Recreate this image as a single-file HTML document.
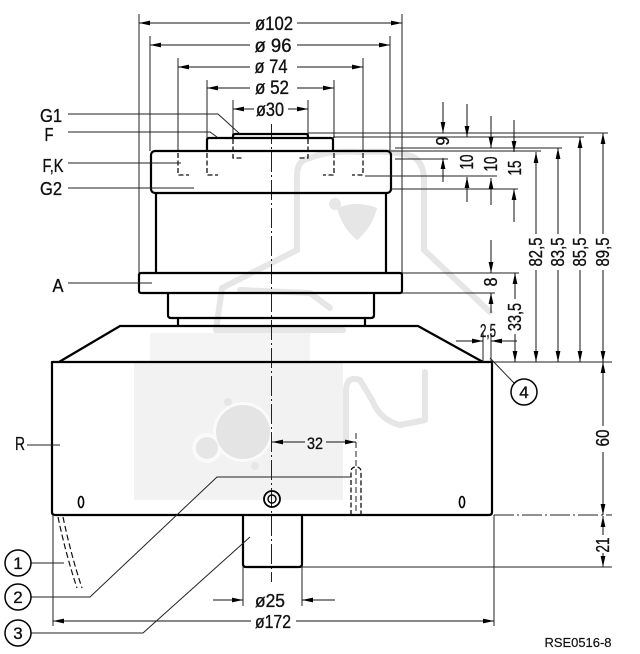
<!DOCTYPE html>
<html><head><meta charset="utf-8"><style>
html,body{margin:0;padding:0;background:#fff;}
svg{display:block;}
text{font-family:"Liberation Sans",sans-serif;fill:#111;stroke:#111;stroke-width:0.35;}
.k{stroke:#000;stroke-width:2.2;fill:none;stroke-linejoin:round;}
.t{stroke:#222;stroke-width:1;fill:none;}
.d{stroke:#111;stroke-width:1.3;fill:none;stroke-dasharray:5 2.5;}
.a{stroke:#111;stroke-width:1;fill:none;marker-end:url(#ar);}
.w{stroke:#e6e6e6;stroke-width:6;fill:none;stroke-linecap:round;stroke-linejoin:round;}
</style></head><body>
<svg width="640" height="654" viewBox="0 0 640 654" xmlns="http://www.w3.org/2000/svg">
<defs>
<marker id="ar" markerUnits="userSpaceOnUse" markerWidth="12" markerHeight="6" refX="11" refY="3" orient="auto">
<path d="M0,0.6 L11,3 L0,5.4 Z" fill="#000"/>
</marker>
</defs>

<!-- watermark -->
<rect x="150" y="333" width="160" height="30" fill="#f4f4f4"/>
<rect x="134" y="363" width="209" height="137" fill="#f2f2f2"/>
<circle cx="243" cy="432" r="30" fill="#fafafa"/>
<circle cx="207" cy="448" r="15" fill="#fafafa"/>
<circle cx="243" cy="432" r="27" fill="#e4e4e4"/>
<circle cx="207" cy="448" r="11" fill="#e6e6e6"/>
<circle cx="255" cy="466" r="4" fill="#e6e6e6"/>
<circle cx="228" cy="402" r="4" fill="#e6e6e6"/>
<path class="w" d="M297,250 V175 Q297,160 310,158 Q330,150 360,152 Q400,150 415,158 Q424,165 424,180 V250"/>
<path class="w" d="M297,250 L222,288 L216,330"/>
<path class="w" d="M424,250 L490,312"/>
<path class="w" d="M216,330 H343"/>
<path class="w" d="M240,290 L310,293 L330,308"/>
<path d="M337,208 Q357,200 377,208 Q372,228 357,240 Q342,228 337,208 Z" fill="#e6e6e6"/>
<circle cx="335" cy="204" r="6" fill="#e8e8e8"/>
<path class="w" d="M346,440 V392 Q346,375 360,380 L372,400 Q380,420 400,425 L425,420 V372"/>

<!-- center line -->
<line x1="271.5" y1="124" x2="271.5" y2="582" stroke="#222" stroke-width="1" stroke-dasharray="20 3 2 3"/>

<!-- top extension lines -->
<path class="t" d="M139,14 V273 M402,14 V273 M150,36 V151 M390,36 V151 M178,58 V151 M363,58 V151 M207,80 V138 M334,80 V138 M233,100 V134 M308,100 V134"/>

<!-- top diameter dims -->
<line class="a" x1="250" y1="23" x2="139" y2="23"/><line class="a" x1="297" y1="23" x2="402" y2="23"/>
<line class="a" x1="250" y1="45" x2="150" y2="45"/><line class="a" x1="297" y1="45" x2="390" y2="45"/>
<line class="a" x1="250" y1="67" x2="178" y2="67"/><line class="a" x1="297" y1="67" x2="363" y2="67"/>
<line class="a" x1="250" y1="88" x2="207" y2="88"/><line class="a" x1="297" y1="88" x2="334" y2="88"/>
<line class="a" x1="254" y1="109" x2="233" y2="109"/><line class="a" x1="288" y1="109" x2="308" y2="109"/>
<text x="274" y="30" font-size="19" text-anchor="middle" textLength="38" lengthAdjust="spacingAndGlyphs">ø102</text>
<text x="273" y="52" font-size="19" text-anchor="middle" textLength="37" lengthAdjust="spacingAndGlyphs">ø 96</text>
<text x="271" y="73" font-size="19" text-anchor="middle" textLength="33" lengthAdjust="spacingAndGlyphs">ø 74</text>
<text x="272" y="94" font-size="19" text-anchor="middle" textLength="34" lengthAdjust="spacingAndGlyphs">ø 52</text>
<text x="270" y="116" font-size="19" text-anchor="middle" textLength="28" lengthAdjust="spacingAndGlyphs">ø30</text>

<!-- part outline -->
<path class="k" d="M233,138 V136 Q233,134 235,134 H306 Q308,134 308,136 V138"/>
<path class="k" d="M207,151 V140 Q207,138 209,138 H331 Q333,138 333,140 V151"/>
<rect class="k" x="151" y="151" width="240" height="42" rx="4"/>
<path class="k" d="M156,193 V273 M386,193 V273"/>
<rect class="k" x="139" y="273" width="263" height="20" rx="2"/>
<path class="k" d="M168,293 V315 Q168,318 171,318 H371 Q374,318 374,315 V293"/>
<path class="k" d="M178,318 V326 M365,318 V326"/>
<path class="k" d="M59,362 L120,326 H418 L483,362"/>
<path class="k" d="M52,362 H492 V512 Q492,515 489,515 H55 Q52,515 52,512 Z"/>
<path class="k" d="M243,515 V564 Q243,567 246,567 H299 Q302,567 302,564 V515"/>

<!-- hidden lines -->
<path class="d" d="M178,153 V175 H189 M207,153 V175 H218 M334,153 V175 H323 M363,153 V175 H352 M233,139 V158 H242 M308,139 V158 H299"/>

<!-- holes -->
<ellipse cx="81" cy="502" rx="2.6" ry="5.5" fill="none" stroke="#000" stroke-width="1.6"/>
<ellipse cx="462" cy="502" rx="2.6" ry="5.5" fill="none" stroke="#000" stroke-width="1.6"/>
<circle cx="272" cy="499" r="8" fill="none" stroke="#000" stroke-width="1.8"/>
<circle cx="272" cy="499" r="4" fill="none" stroke="#000" stroke-width="1.4"/>
<path class="d" d="M351,515 V472 Q351,467 356,467 Q361,467 361,472 V515"/>
<line x1="356" y1="433" x2="356" y2="515" stroke="#222" stroke-width="1" stroke-dasharray="6 3"/>

<!-- 32 dim -->
<line class="a" x1="305" y1="442" x2="272" y2="442"/><line class="a" x1="326" y1="442" x2="356" y2="442"/>
<text x="315" y="449" font-size="17" text-anchor="middle" textLength="16" lengthAdjust="spacingAndGlyphs">32</text>

<!-- left labels -->
<text x="51" y="122" font-size="18" text-anchor="middle" textLength="22" lengthAdjust="spacingAndGlyphs">G1</text>
<text x="49" y="141" font-size="18" text-anchor="middle" textLength="9" lengthAdjust="spacingAndGlyphs">F</text>
<text x="53" y="172" font-size="18" text-anchor="middle" textLength="21" lengthAdjust="spacingAndGlyphs">F,K</text>
<text x="51" y="195" font-size="18" text-anchor="middle" textLength="22" lengthAdjust="spacingAndGlyphs">G2</text>
<text x="58" y="292" font-size="18" text-anchor="middle" textLength="11" lengthAdjust="spacingAndGlyphs">A</text>
<text x="20" y="450" font-size="18" text-anchor="middle" textLength="10" lengthAdjust="spacingAndGlyphs">R</text>
<path class="t" d="M68,114 H218 L240,134 M68,132 H210 L217,137 M68,163 H181 M68,188 H194 M68,283 H152 M27,445 H60"/>

<!-- right ext lines -->
<path class="t" d="M308,133 H608 M333,137 H584 M395,148 H562 M391,151 H541 M395,159 H448 M365,176 H497 M391,189 H518 M402,273 H519 M402,293 H495 M492,362 H612 M302,567 H612 M483,333 V362 M491,333 V362"/>
<line x1="494" y1="515" x2="612" y2="515" stroke="#222" stroke-width="1" stroke-dasharray="20 3 2 3"/>

<!-- right small dims -->
<line class="a" x1="443" y1="102" x2="443" y2="133"/><line class="a" x1="443" y1="182" x2="443" y2="158"/>
<line class="a" x1="467" y1="104" x2="467" y2="137"/><line class="a" x1="467" y1="202" x2="467" y2="177"/>
<line class="a" x1="491" y1="116" x2="491" y2="148"/><line class="a" x1="491" y1="205" x2="491" y2="178"/>
<line class="a" x1="514" y1="120" x2="514" y2="152"/><line class="a" x1="514" y1="222" x2="514" y2="189"/>
<text transform="translate(449,141) rotate(-90)" font-size="18" text-anchor="middle" textLength="9" lengthAdjust="spacingAndGlyphs">9</text>
<text transform="translate(473,162) rotate(-90)" font-size="18" text-anchor="middle" textLength="15" lengthAdjust="spacingAndGlyphs">10</text>
<text transform="translate(497,164) rotate(-90)" font-size="18" text-anchor="middle" textLength="15" lengthAdjust="spacingAndGlyphs">10</text>
<text transform="translate(521,168) rotate(-90)" font-size="18" text-anchor="middle" textLength="15" lengthAdjust="spacingAndGlyphs">15</text>

<!-- long vertical dims -->
<line class="a" x1="536" y1="234" x2="536" y2="152"/><line class="a" x1="536" y1="270" x2="536" y2="362"/>
<line class="a" x1="558" y1="234" x2="558" y2="148"/><line class="a" x1="558" y1="270" x2="558" y2="362"/>
<line class="a" x1="580" y1="234" x2="580" y2="137"/><line class="a" x1="580" y1="270" x2="580" y2="362"/>
<line class="a" x1="603" y1="234" x2="603" y2="133"/><line class="a" x1="603" y1="270" x2="603" y2="362"/>
<text transform="translate(542,252) rotate(-90)" font-size="18" text-anchor="middle" textLength="29" lengthAdjust="spacingAndGlyphs">82,5</text>
<text transform="translate(564,252) rotate(-90)" font-size="18" text-anchor="middle" textLength="29" lengthAdjust="spacingAndGlyphs">83,5</text>
<text transform="translate(586,252) rotate(-90)" font-size="18" text-anchor="middle" textLength="29" lengthAdjust="spacingAndGlyphs">85,5</text>
<text transform="translate(609,252) rotate(-90)" font-size="18" text-anchor="middle" textLength="29" lengthAdjust="spacingAndGlyphs">89,5</text>

<!-- 8 and 33,5 -->
<line class="a" x1="491" y1="240" x2="491" y2="273"/><line class="a" x1="491" y1="313" x2="491" y2="293"/>
<text transform="translate(497,282) rotate(-90)" font-size="18" text-anchor="middle" textLength="9" lengthAdjust="spacingAndGlyphs">8</text>
<line class="a" x1="515" y1="299" x2="515" y2="273"/><line class="a" x1="515" y1="334" x2="515" y2="362"/>
<text transform="translate(521,317) rotate(-90)" font-size="18" text-anchor="middle" textLength="28" lengthAdjust="spacingAndGlyphs">33,5</text>

<!-- 2,5 -->
<line class="a" x1="456" y1="341" x2="483" y2="341"/><line class="a" x1="517" y1="341" x2="491" y2="341"/>
<text x="488" y="337" font-size="18" text-anchor="middle" textLength="16" lengthAdjust="spacingAndGlyphs">2,5</text>

<!-- 60 / 21 -->
<line class="a" x1="603" y1="426" x2="603" y2="362"/><line class="a" x1="603" y1="452" x2="603" y2="515"/>
<text transform="translate(609,438) rotate(-90)" font-size="18" text-anchor="middle" textLength="17" lengthAdjust="spacingAndGlyphs">60</text>
<line class="a" x1="603" y1="535" x2="603" y2="516"/><line class="a" x1="603" y1="553" x2="603" y2="567"/>
<text transform="translate(609,545) rotate(-90)" font-size="18" text-anchor="middle" textLength="15" lengthAdjust="spacingAndGlyphs">21</text>

<!-- bottom dims -->
<path class="t" d="M243,567 V606 M302,567 V606 M53,515 V626 M494,515 V626"/>
<line class="a" x1="213" y1="600" x2="243" y2="600"/><line class="a" x1="335" y1="600" x2="302" y2="600"/>
<text x="270" y="607" font-size="18" text-anchor="middle" textLength="30" lengthAdjust="spacingAndGlyphs">ø25</text>
<line class="a" x1="251" y1="621" x2="53" y2="621"/><line class="a" x1="296" y1="621" x2="494" y2="621"/>
<text x="273" y="628" font-size="18" text-anchor="middle" textLength="36" lengthAdjust="spacingAndGlyphs">ø172</text>

<!-- cable -->
<path d="M58,517 Q66,555 77,588 M63,517 Q71,555 82,588" fill="none" stroke="#111" stroke-width="1.2" stroke-dasharray="6 3"/>

<!-- leaders to numbered circles -->
<path class="t" d="M31,563 H64 M351,477 H217 L90,597 H31 M31,633 H143 L250,537 M490,358 L514,383"/>
<g fill="none" stroke="#000" stroke-width="1.5">
<circle cx="18" cy="563" r="13"/><circle cx="18" cy="597" r="13"/><circle cx="18" cy="633" r="13"/><circle cx="524" cy="392" r="13"/>
</g>
<text x="18" y="569" font-size="17" text-anchor="middle">1</text>
<text x="18" y="603" font-size="17" text-anchor="middle">2</text>
<text x="18" y="639" font-size="17" text-anchor="middle">3</text>
<text x="524" y="398" font-size="17" text-anchor="middle">4</text>

<text x="578" y="647" font-size="13" text-anchor="middle" textLength="67" lengthAdjust="spacingAndGlyphs" style="stroke-width:0.2">RSE0516-8</text>
</svg>
</body></html>
